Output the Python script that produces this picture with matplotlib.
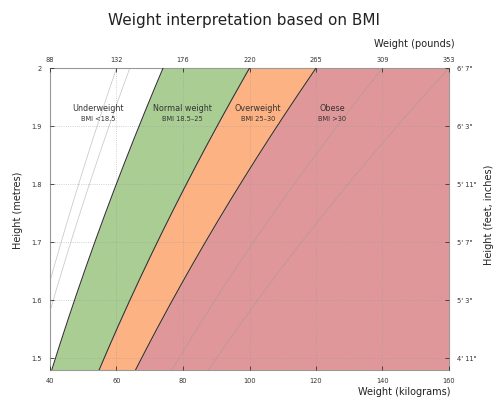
import numpy as np
import matplotlib
matplotlib.use("Agg")
import matplotlib.pyplot as plt

# Data
bmi_bounds = [18.5, 25, 30]
bmi_guides = [15, 16, 35, 40]
kg_ticks = [40, 60, 80, 100, 120, 140, 160]
lb_labels = ["88", "132", "176", "220", "265", "309", "353"]
m_ticks = [1.5, 1.6, 1.7, 1.8, 1.9, 2.0]
m_labels = ["1.5", "1.6", "1.7", "1.8", "1.9", "2"]
ftin_labels = ["4' 11\"", "5' 3\"", "5' 7\"", "5' 11\"", "6' 3\"", "6' 7\""]
region_names = ["Underweight", "Normal weight", "Overweight", "Obese"]
region_sub = ["BMI <18.5", "BMI 18.5\u201325", "BMI 25\u201330", "BMI >30"]
region_x = [54.5, 79.7, 102.5, 124.8]
colors = ["#ffffff", "#aacd94", "#fdb283", "#e0979a"]

xmin, xmax = 40, 160
ymin, ymax = 1.48, 2.0

fig = plt.figure(figsize=(5.0, 4.13), dpi=100)
ax = fig.add_axes([0.1, 0.104, 0.798, 0.731])
ax.set_xlim(xmin, xmax)
ax.set_ylim(ymin, ymax)

h = np.linspace(ymin, ymax, 200)
edges = [np.full_like(h, xmin)] + [b * h**2 for b in bmi_bounds] + [np.full_like(h, xmax)]
for i in range(4):
    ax.fill_betweenx(h, edges[i], edges[i + 1], color=colors[i], lw=0, zorder=1)
for b in bmi_bounds:
    ax.plot(b * h**2, h, color="#333333", lw=0.8, zorder=3)
for b in bmi_guides:
    ax.plot(b * h**2, h, color="#999999", lw=0.6, alpha=0.5, zorder=2)

ax.grid(True, linestyle=":", color="#999999", lw=0.6, alpha=0.6, zorder=2)
ax.set_axisbelow(False)

for x, n, s in zip(region_x, region_names, region_sub):
    ax.text(x, 1.931, n, ha="center", va="center", fontsize=5.8, color="#333333", zorder=4)
    ax.text(x, 1.913, s, ha="center", va="center", fontsize=4.8, color="#333333", zorder=4)

ax.set_xticks(kg_ticks)
ax.set_xticklabels([str(k) for k in kg_ticks])
ax.set_yticks(m_ticks)
ax.set_yticklabels(m_labels)
ax.tick_params(direction="in", length=3, width=0.6, labelsize=4.8, colors="#333333", pad=6)
for s in ax.spines.values():
    s.set_color("#999999")
    s.set_linewidth(0.8)

axt = ax.twiny()
axt.set_xlim(xmin, xmax)
axt.set_xticks(kg_ticks)
axt.set_xticklabels(lb_labels)
axt.tick_params(direction="in", length=3, width=0.6, labelsize=4.8, colors="#333333", pad=4)

axr = ax.twinx()
axr.set_ylim(ymin, ymax)
axr.set_yticks(m_ticks)
axr.set_yticklabels(ftin_labels)
axr.tick_params(direction="in", length=3, width=0.6, labelsize=4.8, colors="#333333", pad=6)
for a in (axt, axr):
    for s in a.spines.values():
        s.set_visible(False)

fig.text(0.488, 0.95, "Weight interpretation based on BMI", ha="center", va="center",
         fontsize=11, color="#222222")
fig.text(0.91, 0.893, "Weight (pounds)", ha="right", va="center", fontsize=7, color="#222222")
fig.text(0.90, 0.05, "Weight (kilograms)", ha="right", va="center", fontsize=7, color="#222222")
fig.text(0.036, 0.49, "Height (metres)", ha="center", va="center", rotation=90,
         fontsize=7, color="#222222")
fig.text(0.978, 0.48, "Height (feet, inches)", ha="center", va="center", rotation=90,
         fontsize=7, color="#222222")

fig.savefig("out.png", dpi=100)
